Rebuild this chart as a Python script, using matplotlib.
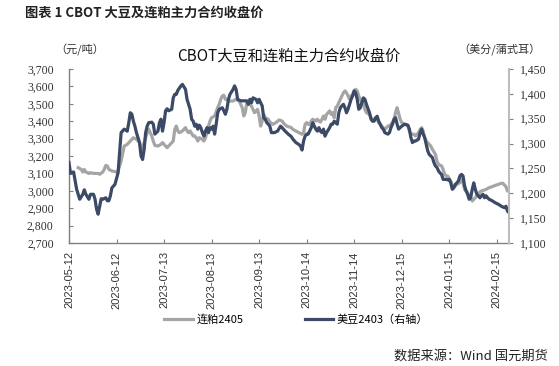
import matplotlib
matplotlib.use('Agg')
import matplotlib.pyplot as plt
import matplotlib.ticker as mticker
import matplotlib.dates as mdates
import pandas as pd

plt.rcParams['font.family'] = ['Noto Sans CJK SC', 'DejaVu Sans']

# days counted from 2023-05-12
START = pd.Timestamp('2023-05-12')

# DCE soybean meal 2405 (yuan/ton, left axis)
meal_days = [6, 8, 9, 10, 11, 13, 14, 16, 19, 20, 22, 23, 24, 25, 26, 28, 31, 32, 34, 36,
             38, 40, 42, 44, 46, 47, 48, 49, 50, 51, 52, 54, 55, 56, 58, 60, 61, 63, 64, 66,
             68, 69, 70, 71, 72, 74, 76, 77, 78, 79, 81, 82, 83, 84, 85, 87, 88, 89, 90, 91,
             92, 93, 95, 97, 98, 99, 100, 101, 102, 103, 104, 107, 109, 111, 113, 114, 115, 116, 118, 119,
             121, 122, 123, 124, 125, 126, 127, 128, 130, 131, 133, 135, 137, 139, 140, 142, 145, 146, 148, 150,
             152, 153, 154, 155, 156, 157, 158, 159, 160, 161, 162, 163, 164, 165, 166, 167, 168, 170, 171, 172,
             173, 174, 175, 176, 177, 178, 179, 180, 181, 183, 184, 185, 186, 187, 188, 189, 190, 191, 192, 193,
             194, 196, 197, 198, 199, 200, 201, 202, 203, 204, 205, 206, 208, 209, 210, 211, 212, 213, 214, 216,
             217, 219, 221, 222, 223, 225, 226, 228, 229, 230, 231, 232, 233, 235, 236, 237, 239, 240, 241, 243,
             244, 245, 246, 247, 249, 250, 252, 253, 255, 256, 257, 258, 260, 261, 262, 263, 264, 265, 267, 268,
             269, 272, 274, 276, 278, 280, 282, 283, 285, 286, 287]
meal_price = [3133, 3123, 3108, 3123, 3108, 3100, 3104, 3100, 3100, 3095, 3108, 3123, 3146, 3143, 3123, 3114, 3108, 3114, 3171, 3257,
              3267, 3286, 3305, 3296, 3277, 3248, 3242, 3277, 3305, 3334, 3353, 3315, 3286, 3261, 3257, 3267, 3277, 3257, 3248, 3267,
              3286, 3353, 3372, 3344, 3334, 3344, 3363, 3344, 3334, 3344, 3315, 3315, 3305, 3286, 3305, 3296, 3286, 3305, 3334, 3372,
              3401, 3420, 3430, 3478, 3497, 3526, 3545, 3549, 3526, 3526, 3516, 3516, 3526, 3516, 3478, 3430, 3449, 3507, 3497, 3487,
              3449, 3459, 3468, 3430, 3372, 3401, 3439, 3420, 3411, 3395, 3382, 3392, 3407, 3401, 3388, 3372, 3363, 3353, 3344, 3334,
              3325, 3334, 3382, 3392, 3382, 3382, 3401, 3411, 3407, 3401, 3411, 3401, 3395, 3411, 3430, 3411, 3439, 3459, 3439, 3449,
              3420, 3478, 3487, 3507, 3526, 3545, 3564, 3574, 3564, 3526, 3545, 3554, 3574, 3583, 3574, 3545, 3526, 3507, 3497, 3468,
              3449, 3439, 3420, 3411, 3411, 3415, 3411, 3392, 3382, 3372, 3363, 3353, 3372, 3372, 3382, 3392, 3411, 3450, 3478, 3411,
              3392, 3382, 3376, 3344, 3325, 3325, 3315, 3334, 3353, 3363, 3344, 3305, 3286, 3267, 3257, 3238, 3210, 3171, 3152, 3143,
              3123, 3095, 3085, 3085, 3056, 3028, 3028, 3037, 3047, 3066, 3047, 3008, 2989, 2970, 2960, 2941, 2951, 2960, 2980, 2993,
              2999, 3008, 3018, 3024, 3031, 3037, 3043, 3043, 3024, 2999, 2999]

# CBOT soybean 2403 (cents/bushel, right axis)
soy_days = [0, 1, 3, 5, 7, 9, 10, 11, 13, 14, 16, 17, 18, 19, 20, 21, 22, 24, 25, 26,
            27, 28, 30, 32, 33, 34, 36, 38, 39, 40, 41, 42, 43, 44, 46, 47, 48, 49, 50, 51,
            52, 54, 55, 56, 57, 58, 59, 60, 61, 62, 63, 64, 65, 67, 68, 69, 70, 71, 73, 74,
            76, 77, 79, 80, 81, 82, 83, 84, 85, 86, 87, 88, 89, 90, 91, 92, 93, 94, 95, 96,
            97, 98, 100, 101, 102, 103, 104, 105, 107, 108, 109, 110, 112, 114, 116, 117, 118, 119, 120, 122,
            123, 124, 125, 126, 127, 128, 129, 130, 131, 132, 134, 136, 138, 139, 141, 143, 145, 146, 148, 150,
            151, 152, 153, 154, 155, 156, 158, 159, 160, 161, 162, 163, 164, 165, 166, 167, 168, 170, 171, 172,
            173, 174, 175, 176, 177, 178, 179, 180, 181, 182, 184, 185, 186, 187, 188, 189, 190, 191, 192, 193,
            194, 196, 197, 198, 199, 200, 201, 202, 203, 204, 205, 206, 208, 209, 210, 211, 212, 213, 214, 215,
            216, 217, 219, 221, 222, 223, 224, 225, 226, 228, 229, 230, 231, 232, 233, 234, 235, 236, 237, 238,
            239, 240, 241, 242, 243, 244, 246, 247, 248, 249, 250, 251, 252, 253, 254, 255, 256, 257, 258, 259,
            260, 261, 262, 263, 264, 265, 266, 267, 268, 269, 270, 271, 272, 273, 274, 276, 278, 280, 282, 284,
            285, 286, 287]
soy_price = [1262, 1240, 1243, 1208, 1188, 1198, 1207, 1198, 1188, 1198, 1198, 1188, 1168, 1158, 1174, 1189, 1188, 1191, 1185, 1185,
             1195, 1211, 1218, 1241, 1282, 1322, 1329, 1325, 1342, 1362, 1359, 1345, 1335, 1322, 1302, 1275, 1268, 1288, 1322, 1335,
             1342, 1343, 1339, 1319, 1322, 1325, 1342, 1349, 1325, 1342, 1366, 1370, 1366, 1369, 1392, 1399, 1399, 1407, 1416, 1419,
             1409, 1389, 1369, 1349, 1345, 1335, 1339, 1329, 1337, 1332, 1322, 1315, 1325, 1332, 1322, 1332, 1329, 1335, 1319, 1339,
             1362, 1369, 1372, 1366, 1359, 1369, 1389, 1399, 1409, 1416, 1409, 1389, 1386, 1386, 1386, 1379, 1389, 1382, 1392, 1389,
             1382, 1389, 1382, 1376, 1352, 1349, 1342, 1339, 1335, 1322, 1322, 1325, 1335, 1332, 1325, 1319, 1314, 1309, 1302, 1298,
             1295, 1287, 1305, 1315, 1319, 1319, 1332, 1342, 1335, 1329, 1325, 1332, 1325, 1322, 1329, 1315, 1322, 1332, 1339, 1339,
             1345, 1342, 1339, 1362, 1372, 1376, 1379, 1372, 1362, 1369, 1389, 1396, 1406, 1402, 1389, 1369, 1372, 1382, 1392, 1389,
             1379, 1362, 1349, 1345, 1345, 1352, 1355, 1345, 1339, 1332, 1329, 1322, 1319, 1322, 1332, 1339, 1349, 1352, 1339, 1329,
             1332, 1335, 1339, 1337, 1329, 1312, 1302, 1305, 1305, 1309, 1322, 1329, 1319, 1312, 1298, 1285, 1278, 1275, 1272, 1262,
             1255, 1252, 1245, 1241, 1238, 1228, 1228, 1227, 1228, 1221, 1208, 1211, 1218, 1221, 1225, 1235, 1238, 1235, 1215, 1205,
             1198, 1188, 1191, 1208, 1221, 1208, 1198, 1195, 1191, 1195, 1198, 1191, 1195, 1191, 1188, 1185, 1181, 1178, 1174, 1171,
             1174, 1164, 1161]

tick_labels = ['2023-05-12', '2023-06-12', '2023-07-13', '2023-08-13', '2023-09-13',
               '2023-10-14', '2023-11-14', '2023-12-15', '2024-01-15', '2024-02-15']

meal_dates = START + pd.to_timedelta(meal_days, unit='D')
soy_dates = START + pd.to_timedelta(soy_days, unit='D')

fig = plt.figure(figsize=(5.59, 3.66), dpi=100)
ax = fig.add_axes([0.1234, 0.336, 0.7872, 0.4755])
ax2 = ax.twinx()

l1, = ax.plot(meal_dates, meal_price, color='#A5A5A5', lw=2.3, label='连粕2405')
l2, = ax2.plot(soy_dates, soy_price, color='#3B4A66', lw=2.3, label='美豆2403（右轴）')

ax.set_xlim(START, soy_dates[-1])
ax.set_ylim(2700, 3700)
ax2.set_ylim(1100, 1450)
ax.yaxis.set_major_locator(mticker.MultipleLocator(100))
ax2.yaxis.set_major_locator(mticker.MultipleLocator(50))
fmt = mticker.FuncFormatter(lambda v, p: f'{v:,.0f}')
ax.yaxis.set_major_formatter(fmt)
ax2.yaxis.set_major_formatter(fmt)

ax.set_xticks(pd.to_datetime(tick_labels))
ax.xaxis.set_major_formatter(mdates.DateFormatter('%Y-%m-%d'))

for sp in ['top']:
    ax.spines[sp].set_visible(False)
    ax2.spines[sp].set_visible(False)
ax2.spines['left'].set_visible(False)
ax2.spines['bottom'].set_visible(False)
ax.spines['right'].set_visible(False)
ax.spines['left'].set_color('#808080')
ax.spines['bottom'].set_color('#808080')
ax2.spines['right'].set_color('#BDBDBD')
for s in ['left', 'bottom']:
    ax.spines[s].set_linewidth(1.0)
ax2.spines['right'].set_linewidth(1.5)

ax.tick_params(axis='y', direction='in', length=3, color='#808080', pad=11,
               labelsize=8.5, labelcolor='#333333')
ax.tick_params(axis='x', direction='in', length=3, color='#808080', pad=6,
               labelsize=8, labelcolor='#333333', labelrotation=90)
ax2.tick_params(axis='y', direction='out', length=3, color='#808080', pad=5,
                labelsize=8.5, labelcolor='#333333')
for lab in ax.get_yticklabels() + ax2.get_yticklabels():
    lab.set_fontfamily('Liberation Serif')
for lab in ax.get_xticklabels():
    lab.set_fontfamily('Liberation Sans')

fig.text(0.045, 0.966, '图表 1 CBOT 大豆及连粕主力合约收盘价', fontsize=9.5,
         fontweight='bold', color='#222222', va='center', ha='left')
fig.text(0.516, 0.847, 'CBOT大豆和连粕主力合约收盘价', fontsize=11,
         color='#111111', va='center', ha='center')
fig.text(0.143, 0.863, '（元/吨）', fontsize=8, color='#333333', va='center', ha='center')
fig.text(0.893, 0.863, '（美分/蒲式耳）', fontsize=8, color='#333333', va='center', ha='center')
fig.text(0.98, 0.027, '数据来源：Wind 国元期货', fontsize=9.5, color='#222222',
         va='center', ha='right')

fig.legend(handles=[l1, l2], loc='center', bbox_to_anchor=(0.53, 0.128), ncol=2,
           frameon=False, fontsize=8, handlelength=2.6, handletextpad=0.3,
           columnspacing=5.5)

fig.savefig('out.png', dpi=100)
